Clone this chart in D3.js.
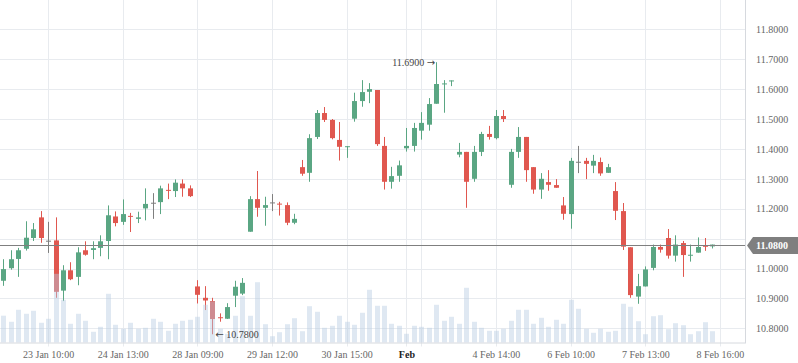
<!DOCTYPE html>
<html>
<head>
<meta charset="utf-8">
<script src="https://cdn.jsdelivr.net/npm/d3@7/dist/d3.min.js"></script>
<style>
html,body{margin:0;padding:0;background:#fff;}
svg{display:block;font-family:"Liberation Serif",serif;}
</style>
</head>
<body>
<svg id="chart" width="798" height="363"></svg>
<script>
// ---- data (index-based hourly candles) ----
const open  = [10.959,11.001,11.032,11.066,11.102,11.171,11.093,11.094,10.926,10.994,10.972,11.061,11.062,11.069,11.092,11.174,11.156,11.176,11.166,11.201,11.220,11.222,11.263,11.259,11.284,11.268,10.940,10.902,10.891,10.837,10.832,10.909,10.916,11.123,11.232,11.203,11.221,11.217,11.212,11.153,11.339,11.320,11.440,11.520,11.497,11.430,11.407,11.501,11.560,11.591,11.597,11.410,11.290,11.310,11.402,11.410,11.461,11.481,11.551,11.618,11.628,11.381,11.390,11.300,11.390,11.450,11.436,11.510,11.280,11.390,11.440,11.339,11.264,11.289,11.279,11.211,11.182,11.357,11.360,11.344,11.356,11.320,11.259,11.192,11.071,10.906,10.940,11.002,11.072,11.102,11.043,11.085,11.044,11.053,11.076,11.074];
const high  = [11.031,11.061,11.069,11.158,11.152,11.192,11.156,11.171,11.011,11.021,11.071,11.091,11.091,11.111,11.211,11.191,11.231,11.186,11.190,11.268,11.252,11.277,11.284,11.298,11.298,11.278,10.961,10.941,10.902,10.850,10.884,10.959,10.968,11.242,11.326,11.240,11.249,11.223,11.221,11.183,11.363,11.449,11.530,11.540,11.500,11.490,11.409,11.588,11.630,11.620,11.597,11.440,11.340,11.361,11.470,11.487,11.523,11.570,11.690,11.630,11.629,11.420,11.390,11.410,11.457,11.477,11.530,11.530,11.400,11.473,11.440,11.339,11.319,11.329,11.299,11.239,11.370,11.410,11.370,11.380,11.371,11.350,11.289,11.219,11.071,10.982,11.007,11.080,11.080,11.132,11.111,11.092,11.080,11.104,11.102,11.080];
const low   = [10.942,10.996,10.972,11.060,11.092,11.086,11.052,10.902,10.891,10.961,10.944,11.043,11.031,11.041,11.031,11.141,11.146,11.122,11.152,11.161,11.166,11.182,11.232,11.239,11.240,11.239,10.883,10.861,10.780,10.822,10.831,10.871,10.911,11.123,11.173,11.143,11.192,11.177,11.145,11.148,11.310,11.290,11.433,11.490,11.432,11.361,11.370,11.491,11.541,11.553,11.410,11.264,11.267,11.290,11.391,11.391,11.431,11.461,11.551,11.521,11.610,11.372,11.203,11.290,11.376,11.431,11.432,11.490,11.270,11.370,11.290,11.250,11.233,11.260,11.270,11.163,11.133,11.319,11.299,11.319,11.310,11.320,11.162,11.062,10.902,10.882,10.940,10.994,11.053,11.033,11.023,10.972,11.023,11.053,11.059,11.067];
const close = [10.998,11.031,11.061,11.103,11.131,11.102,11.093,10.922,10.994,10.964,11.054,11.046,11.068,11.091,11.178,11.152,11.182,11.173,11.171,11.216,11.220,11.268,11.260,11.287,11.268,11.242,10.912,10.893,10.831,10.834,10.871,10.939,10.952,11.232,11.203,11.212,11.221,11.214,11.153,11.166,11.317,11.436,11.520,11.497,11.436,11.407,11.409,11.560,11.590,11.600,11.416,11.290,11.309,11.345,11.410,11.470,11.487,11.550,11.617,11.619,11.629,11.390,11.290,11.390,11.450,11.440,11.510,11.500,11.390,11.440,11.329,11.264,11.300,11.280,11.270,11.183,11.360,11.357,11.350,11.360,11.318,11.339,11.193,11.073,10.911,10.941,10.997,11.072,11.063,11.043,11.080,11.045,11.046,11.072,11.074,11.080];
const volume = [268,207,327,287,317,197,237,687,427,187,287,217,107,157,487,177,137,197,137,147,237,207,117,187,217,227,257,377,410,137,87,267,463,267,603,183,63,103,183,243,113,363,307,147,167,267,207,177,297,527,367,367,187,167,87,167,157,147,377,217,257,187,547,207,147,117,117,137,217,327,327,187,247,157,227,187,427,337,137,97,137,107,117,387,357,213,83,263,273,133,193,173,83,113,203,113];

const tickIndex  = [6,16,26,36,46,54,56,66,76,86,96];
const tickLabels = ["23 Jan 10:00","24 Jan 13:00","28 Jan 09:00","29 Jan 12:00","30 Jan 15:00","Feb","","4 Feb 14:00","6 Feb 10:00","7 Feb 13:00","8 Feb 16:00"];
const priceTicks = [10.8,10.9,11.0,11.1,11.2,11.3,11.4,11.5,11.6,11.7,11.8];
const priceLabels = ["10.8000","10.9000","11.0000","","11.2000","11.3000","11.4000","11.5000","11.6000","11.7000","11.8000"];
const lastPrice = 11.08;
const maxPoint = {i:58, v:11.69};
const minPoint = {i:28, v:10.78};

// ---- layout ----
const svg = d3.select("#chart");
const plotRight = 745, plotBottom = 342.5;
const x = d3.scaleLinear().domain([-0.44, 99.36]).range([0, plotRight]);
const y = d3.scaleLinear().domain([10.8, 11.8]).range([328.3, 29.3]);
const yVol = d3.scaleLinear().domain([0, 1000]).range([plotBottom, plotBottom - 100]);

const GREEN = "#5aa683", RED = "#e0574f", GRAY = "#7f7f7f";
const gridColor = "#e8ebef";

// horizontal grid
svg.append("g").selectAll("line").data(priceTicks).join("line")
  .attr("x1", 0).attr("x2", plotRight)
  .attr("y1", d => Math.round(y(d)) + 0.5).attr("y2", d => Math.round(y(d)) + 0.5)
  .attr("stroke", gridColor).attr("stroke-width", 1);

// vertical grid
svg.append("g").selectAll("line").data(tickIndex).join("line")
  .attr("x1", d => Math.round(x(d)) + 0.5).attr("x2", d => Math.round(x(d)) + 0.5)
  .attr("y1", 0).attr("y2", plotBottom + 4)
  .attr("stroke", gridColor).attr("stroke-width", 1);

// candles
const idx = d3.range(open.length);
const colorOf = i => close[i] > open[i] ? GREEN : (close[i] < open[i] ? RED : GRAY);
const cw = 5;
const cg = svg.append("g");
cg.selectAll("line.wick").data(idx).join("line")
  .attr("class","wick")
  .attr("x1", i => Math.round(x(i)) + 0.5).attr("x2", i => Math.round(x(i)) + 0.5)
  .attr("y1", i => y(high[i])).attr("y2", i => y(low[i]))
  .attr("stroke", colorOf).attr("stroke-width", 1);
cg.selectAll("rect.body").data(idx).join("rect")
  .attr("class","body")
  .attr("x", i => Math.round(x(i)) + 0.5 - cw/2)
  .attr("width", cw)
  .attr("y", i => y(Math.max(open[i], close[i])))
  .attr("height", i => Math.max(1, Math.abs(y(open[i]) - y(close[i]))))
  .attr("fill", colorOf);

// volume (drawn over candles, translucent)
svg.append("g").selectAll("rect").data(idx).join("rect")
  .attr("x", i => Math.round(x(i)) + 0.5 - cw/2)
  .attr("width", cw)
  .attr("y", i => yVol(volume[i]))
  .attr("height", i => plotBottom - yVol(volume[i]))
  .attr("fill", "#b7cde3").attr("fill-opacity", 0.45);

// axes lines
svg.append("line").attr("x1", 0).attr("x2", plotRight).attr("y1", plotBottom + 0.5).attr("y2", plotBottom + 0.5)
  .attr("stroke", "#d6d9de");
svg.append("line").attr("x1", plotRight + 0.5).attr("x2", plotRight + 0.5).attr("y1", 0).attr("y2", plotBottom + 1)
  .attr("stroke", "#d6d9de");

// x axis
const xAxis = d3.axisBottom(x).tickValues(tickIndex).tickSize(0).tickPadding(0)
  .tickFormat((d, k) => tickLabels[k]);
const gx = svg.append("g").attr("transform", `translate(0,${plotBottom + 15})`).call(xAxis);
gx.select(".domain").remove();
gx.selectAll("text").attr("font-family", "Liberation Serif, serif").attr("font-size", 10)
  .attr("dy", 0)
  .attr("font-weight", (d, k) => tickLabels[k] === "Feb" ? "bold" : "normal")
  .attr("fill", (d, k) => tickLabels[k] === "Feb" ? "#222" : "#666");

// y axis
const yAxis = d3.axisRight(y).tickValues(priceTicks).tickSize(0).tickPadding(11)
  .tickFormat((d, k) => priceLabels[k]);
const gy = svg.append("g").attr("transform", `translate(${plotRight},0)`).call(yAxis);
gy.select(".domain").remove();
gy.selectAll("text").attr("font-family", "Liberation Serif, serif").attr("font-size", 10).attr("fill", "#666");

// last price line + label
const ly = Math.round(y(lastPrice)) + 0.5;
svg.append("line").attr("x1", 0).attr("x2", plotRight).attr("y1", ly).attr("y2", ly)
  .attr("stroke", GRAY).attr("stroke-width", 1.2);
const bx = plotRight + 2, bh = 17;
svg.append("path")
  .attr("d", `M${bx},${ly} L${bx+6},${ly-bh/2} L798,${ly-bh/2} L798,${ly+bh/2} L${bx+6},${ly+bh/2} Z`)
  .attr("fill", GRAY);
svg.append("text").attr("x", 756).attr("y", ly).attr("dy", "0.35em")
  .attr("font-size", 10).attr("font-weight", "bold").attr("fill", "#fff")
  .text(d3.format(".4f")(lastPrice));

// max / min annotations (arrow glyph in DejaVu Sans for a clearer arrow)
const tMax = svg.append("text").attr("x", x(maxPoint.i) - 1).attr("y", y(maxPoint.v)).attr("dy", "0.35em")
  .attr("text-anchor", "end").attr("font-size", 10).attr("fill", "#444");
tMax.append("tspan").text(d3.format(".4f")(maxPoint.v) + " ");
tMax.append("tspan").attr("font-family", "DejaVu Sans").text("\u2192");
const tMin = svg.append("text").attr("x", x(minPoint.i) + 3).attr("y", y(minPoint.v)).attr("dy", "0.35em")
  .attr("text-anchor", "start").attr("font-size", 10).attr("fill", "#444");
tMin.append("tspan").attr("font-family", "DejaVu Sans").text("\u2190");
tMin.append("tspan").text(" " + d3.format(".4f")(minPoint.v));
</script>
</body>
</html>
